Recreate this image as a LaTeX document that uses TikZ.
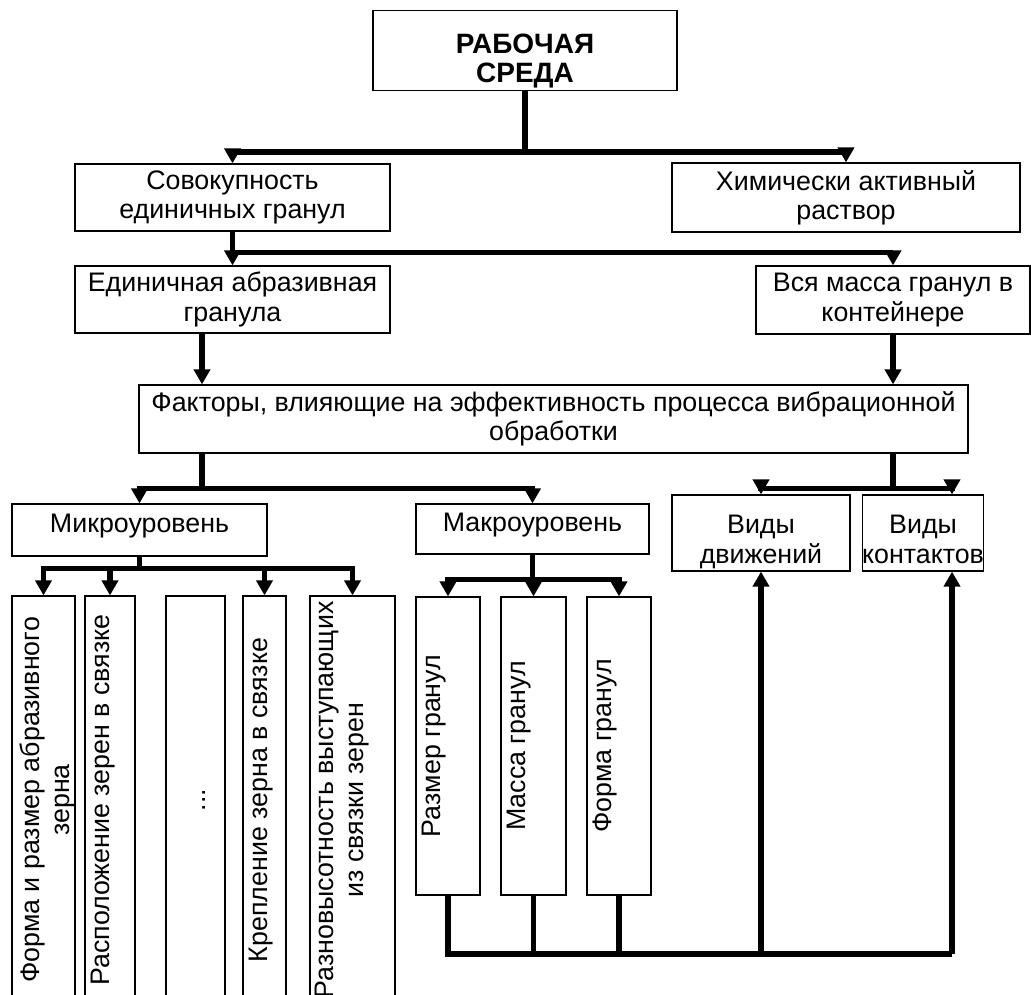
\documentclass[tikz,border=0pt]{standalone}
\usepackage{fontspec}
\setmainfont{Liberation Sans}
\usetikzlibrary{arrows.meta,calc}

\begin{document}
\begin{tikzpicture}[x=0.5pt,y=-0.5pt,
    blok/.style={draw,line width=0.6pt,align=center,inner sep=2pt,font=\fontsize{13.4pt}{14.6pt}\selectfont},
    vblok/.style={blok,rotate=90,inner sep=0pt,text height=12pt},
    liniya/.style={line width=2.8pt},
    strelka/.style={liniya,-{Triangle[width=8pt,length=7.5pt]}}]
    \useasboundingbox (0,0) rectangle (1031,994);

    % Top level
    \node[blok,font=\fontsize{14pt}{14.5pt}\selectfont\bfseries,text height=34pt,text depth=2pt,minimum width=152pt,minimum height=38.5pt] (sreda) at (525,50.5) {РАБОЧАЯ\\СРЕДА};

    % Second and third levels
    \node[blok,minimum width=157.5pt,minimum height=33.5pt] (sovok) at (232.5,197.5) {Совокупность\\единичных гранул};
    \node[blok,minimum width=174pt,minimum height=34.5pt] (khim) at (846,197.5) {Химически активный\\раствор};
    \node[blok,minimum width=157.5pt,minimum height=33.5pt] (edin) at (232.5,299.5) {Единичная абразивная\\гранула};
    \node[blok,minimum width=137pt,minimum height=34pt] (vsya) at (893,300) {Вся масса гранул в\\контейнере};

    % Factors
    \node[blok,minimum width=414.5pt,minimum height=34pt] (faktory) at (553.5,419) {Факторы, влияющие на эффективность процесса вибрационной\\обработки};

    % Levels
    \node[blok,minimum width=127.5pt,minimum height=26pt,text depth=7pt] (mikro) at (139.5,530) {Микроуровень};
    \node[blok,minimum width=116.5pt,minimum height=25pt,text depth=7pt] (makro) at (532.5,529) {Макроуровень};
    \node[blok,minimum width=89pt,minimum height=38pt,inner ysep=0pt,text height=33pt,text depth=3pt] (vdvizh) at (761,533) {Виды\\движений};
    \node[blok,minimum width=60pt,minimum height=38pt,inner sep=0pt,text height=33pt,text depth=3pt] (vkont) at (923,533) {Виды\\контактов};

    % Micro level boxes
    \node[vblok,text height=28.5pt,text depth=3pt,minimum width=204pt] (m1) at (43.5,800) {Форма и размер абразивного\\зерна};
    \node[vblok,text depth=13pt,minimum width=204pt] (m2) at (110,800) {Расположение зерен в связке};
    \node[vblok,text height=19.5pt,text depth=10pt,minimum width=204pt] (m3) at (195.5,800) {...};
    \node[vblok,text depth=9.5pt,minimum width=204pt] (m4) at (264.5,800) {Крепление зерна в связке};
    \node[vblok,text height=26.5pt,text depth=16pt,minimum width=204pt] (m5) at (352.5,800) {Разновысотность выступающих\\из связки зерен};

    % Macro level boxes
    \node[vblok,text depth=20pt,minimum width=149pt] (g1) at (448,746) {Размер гранул};
    \node[vblok,text depth=20.5pt,minimum width=149pt] (g2) at (533.5,746) {Масса гранул};
    \node[vblok,text depth=20pt,minimum width=149pt] (g3) at (619,746) {Форма гранул};

    \coordinate (k1) at (202,0);
    \coordinate (k2) at (952,0);
    \coordinate (niz) at (0,954);

    % From the top box
    \draw[liniya] (sreda.south) -- ++(0,61) coordinate (r1);
    \draw[strelka] (r1) -| (sovok.north);
    \draw[strelka] (r1) -| (khim.north);

    % Second level
    \draw[strelka] (sovok.south) -- (edin.north);
    \draw[strelka] ($(sovok.south)+(0,21)$) -| (vsya.north);

    % Into the factors
    \draw[strelka] (edin.south -| k1) -- (faktory.north -| k1);
    \draw[strelka] (vsya.south) -- (faktory.north -| vsya.south);

    % Out of the factors
    \draw[liniya] (faktory.south -| k1) -- ++(0,35) coordinate (r4);
    \draw[strelka] (r4) -| (mikro.north);
    \draw[strelka] (r4) -| (makro.north);
    \draw[liniya] (faktory.south -| vsya.south) -- ++(0,35) coordinate (r5);
    \draw[strelka] (r5) -| (vdvizh.north);
    \draw[strelka] (r5) -| (vkont.north -| k2);

    % Micro level
    \draw[liniya] (mikro.south) -- ++(0,12) coordinate (r6);
    \foreach \n in {m1,m2,m4,m5} \draw[strelka] (r6) -| (\n.east);

    % Macro level
    \draw[liniya] (makro.south) -- ++(0,25) coordinate (r7);
    \foreach \n in {g1,g2,g3} \draw[strelka] (r7) -| (\n.east);

    % Bottom link
    \draw[liniya] (g1.west) |- (niz -| k2);
    \foreach \n in {g2,g3} \draw[liniya] (\n.west) -- (\n.west |- niz);
    \draw[strelka] (niz -| vdvizh.south) -- (vdvizh.south);
    \draw[strelka] (niz -| k2) -- (vkont.south -| k2);
\end{tikzpicture}
\end{document}
